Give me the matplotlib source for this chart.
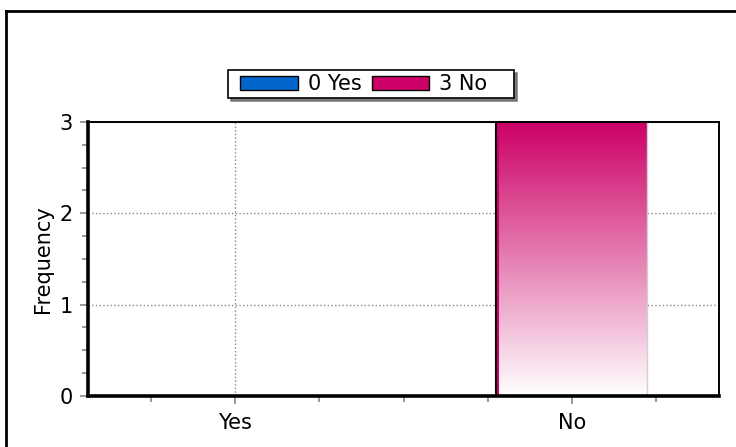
import matplotlib.pyplot as plt
import numpy as np
from matplotlib.patches import Patch
from matplotlib.lines import Line2D
from matplotlib.path import Path
from matplotlib.ticker import MultipleLocator

categories = ['Yes', 'No']
counts = [0, 3]
colors = ['#0066cc', '#cc0066']

plt.rcParams['font.family'] = 'DejaVu Sans'
plt.rcParams['font.size'] = 15

fig = plt.figure(figsize=(7.36, 4.47), dpi=100)
ax = fig.add_axes([0.1196, 0.1141, 0.8573, 0.6130])

x = np.arange(len(categories))
bars = ax.bar(x, counts, width=0.45, color='none', linewidth=0, zorder=2)

# vertical gradient fill for each bar, dark at the top fading to white
for bar, c in zip(bars, colors):
    if bar.get_height() <= 0:
        continue
    x0, y0 = bar.get_x(), bar.get_y()
    w, h = bar.get_width(), bar.get_height()
    rgb = np.array(plt.matplotlib.colors.to_rgb(c))
    t = np.linspace(0, 1, 256)[:, None]
    grad = (1 - t) * rgb + t * np.ones(3)
    grad = grad[:, None, :]
    im = ax.imshow(grad, extent=[x0, x0 + w, y0, y0 + h], aspect='auto',
                   origin='upper', zorder=2, interpolation='bilinear')
    im.set_clip_path(bar)
    ax.plot([x0, x0], [y0, y0 + h], color='black', lw=1.5, zorder=3)
    ax.plot([x0 + 0.006, x0 + 0.006], [y0, y0 + h], color=c, lw=1.5, zorder=3)
    ax.plot([x0 + w, x0 + w], [y0, y0 + h], color='#d0d0d0', lw=1, zorder=3)

ax.set_xlim(-0.4375, 1.4375)
ax.set_ylim(0, 3)
ax.set_xticks(x)
ax.set_xticklabels(categories)
ax.xaxis.set_minor_locator(MultipleLocator(0.25))
ax.set_yticks([0, 1, 2, 3])
ax.yaxis.set_minor_locator(MultipleLocator(0.25))
ax.tick_params(which='major', length=6, width=1.2, color='#888888')
ax.tick_params(which='minor', length=4, width=1.2, color='#888888')
ax.tick_params(axis='x', which='both', top=False, pad=6)
ax.tick_params(axis='y', which='both', right=False, pad=5)

ax.grid(True, which='major', linestyle=':', color='#888888', linewidth=1, zorder=0)
ax.set_axisbelow(True)

ax.spines['left'].set_linewidth(2.6)
ax.spines['bottom'].set_linewidth(2.6)
ax.spines['top'].set_linewidth(1.4)
ax.spines['right'].set_linewidth(1.4)
for s in ax.spines.values():
    s.set_zorder(4)

ax.set_ylabel('Frequency', labelpad=5)


def wide_box(x0, y0, width, height, mutation_size):
    # square legend frame with extra room on the left and more on the right
    left = x0 - 0.4 * mutation_size
    right = x0 + width + 1.1 * mutation_size
    return Path([(left, y0), (right, y0), (right, y0 + height),
                 (left, y0 + height), (left, y0)], closed=True)


handles = [Patch(facecolor=c, edgecolor='black', linewidth=1) for c in colors]
labels = [f'{n} {cat}' for n, cat in zip(counts, categories)]
leg = fig.legend(handles, labels, loc='center', bbox_to_anchor=(0.4946, 0.812),
                 ncol=2, frameon=True, fancybox=False,
                 shadow={'color': '#666666', 'alpha': 0.8},
                 handlelength=2.74, handleheight=0.67, handletextpad=0.48,
                 columnspacing=0.53, borderpad=0.18, borderaxespad=0)
leg.get_frame().set_boxstyle(wide_box)
leg.get_frame().set_edgecolor('black')
leg.get_frame().set_linewidth(1.2)

# frame lines along the top and left edge of the figure
fig.add_artist(Line2D([6 / 736, 1], [1 - 11 / 447, 1 - 11 / 447],
                      transform=fig.transFigure, color='black', lw=2))
fig.add_artist(Line2D([6 / 736, 6 / 736], [0, 1 - 11 / 447],
                      transform=fig.transFigure, color='black', lw=2))

fig.savefig('out.png', dpi=100)
